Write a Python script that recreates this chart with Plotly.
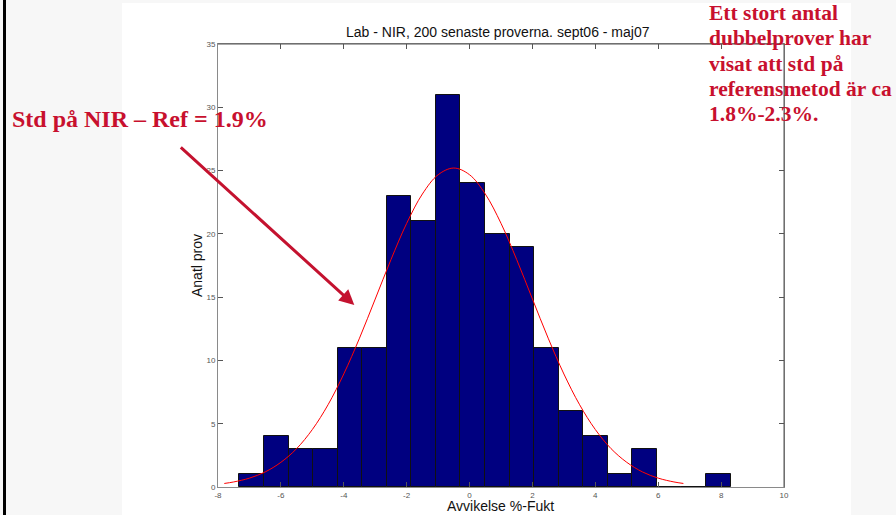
import plotly.graph_objects as go

# ---- data ----
bin_centers = [-6.930, -6.148, -5.367, -4.586, -3.805, -3.024, -2.243, -1.462, -0.681, 0.100,
               0.881, 1.662, 2.443, 3.224, 4.005, 4.786, 5.567, 6.348, 7.129, 7.910]
counts = [1, 4, 3, 3, 11, 11, 23, 21, 31, 24, 20, 19, 11, 6, 4, 1, 3, 0, 0, 1]
bin_width = 0.781

curve_x = [-7.8, -7.5, -7.0, -6.5, -6.0, -5.5, -5.0, -4.5, -4.0, -3.5, -3.0, -2.5, -2.0, -1.5, -1.0,
           -0.5, 0.0, 0.5, 1.0, 1.5, 2.0, 2.5, 3.0, 3.5, 4.0, 4.5, 5.0, 5.5, 6.0, 6.5, 6.8]
curve_y = [0.28, 0.40, 0.70, 1.19, 1.95, 3.03, 4.54, 6.50, 8.93, 11.76, 14.85, 17.96, 20.83, 23.15, 24.67,
           25.2, 24.67, 23.15, 20.83, 17.96, 14.85, 11.76, 8.93, 6.50, 4.54, 3.03, 1.95, 1.19, 0.70, 0.40, 0.28]

x_tick_vals = [-8, -6, -4, -2, 0, 2, 4, 6, 8, 10]
x_tick_text = ["-8", "-6", "-4", "-2", "0", "2", "4", "6", "8", "10"]
y_tick_vals = [0, 5, 10, 15, 20, 25, 30, 35]
y_tick_text = ["0", "5", "10", "15", "20", "25", "30", "35"]

title_text = "Lab - NIR, 200 senaste proverna. sept06 - maj07"
x_title = "Avvikelse %-Fukt"
y_title = "Anatl prov"
left_note = "Std på NIR – Ref = 1.9%"
right_note = ["Ett stort antal", "dubbelprover har", "visat att std på",
              "referensmetod är ca", "1.8%-2.3%."]

# ---- layout geometry (pixels) ----
W, H = 896, 515
L, R, T, B = 218, 784, 44, 487
pw, ph = R - L, B - T


def px(xp):
    return (xp - L) / pw


def py(yp):
    return (B - yp) / ph


RED = "#C8102E"
SANS = "Liberation Sans, Arial, sans-serif"
SERIF = "Liberation Serif, Times New Roman, serif"

fig = go.Figure()
fig.add_trace(go.Bar(x=bin_centers, y=counts, width=bin_width,
                     marker=dict(color="#000080", line=dict(color="#111111", width=1)),
                     showlegend=False, hoverinfo="skip"))
fig.add_trace(go.Scatter(x=curve_x, y=curve_y, mode="lines", line_shape="spline",
                         line=dict(color="#FF0000", width=1), showlegend=False, hoverinfo="skip"))

axis_common = dict(showgrid=False, zeroline=False, showline=True, linecolor="#8a8a8a", linewidth=1,
                   mirror="ticks", ticks="inside", ticklen=5, tickcolor="#555555",
                   tickfont=dict(family=SANS, size=8, color="#555555"))
fig.update_xaxes(range=[-8, 10], tickvals=x_tick_vals, ticktext=x_tick_text, **axis_common)
fig.update_yaxes(range=[0, 35], tickvals=y_tick_vals, ticktext=y_tick_text, **axis_common)

shapes = [
    dict(type="rect", xref="paper", yref="paper", x0=px(122), x1=px(851), y0=py(515), y1=py(3),
         fillcolor="white", line=dict(width=0), layer="below"),
    dict(type="rect", xref="paper", yref="paper", x0=px(3), x1=px(6), y0=py(515), y1=py(0),
         fillcolor="black", line=dict(width=0), layer="below"),
    dict(type="line", xref="paper", yref="paper", x0=0, x1=1, y0=1, y1=1,
         line=dict(color="#555555", width=1), layer="above"),
    dict(type="line", xref="paper", yref="paper", x0=1, x1=1, y0=0, y1=1,
         line=dict(color="#555555", width=1), layer="above"),
]

annotations = [
    dict(text=title_text, xref="paper", yref="paper", x=px(498), y=py(32), xanchor="center",
         yanchor="middle", showarrow=False, font=dict(family=SANS, size=14, color="#111111")),
    dict(text=x_title, xref="paper", yref="paper", x=px(500), y=py(506), xanchor="center",
         yanchor="middle", showarrow=False, font=dict(family=SANS, size=14, color="#111111")),
    dict(text=y_title, xref="paper", yref="paper", x=px(197), y=py(266), xanchor="center",
         yanchor="middle", textangle=-90, showarrow=False, font=dict(family=SANS, size=14, color="#111111")),
    dict(text=left_note, xref="paper", yref="paper", x=px(10), y=py(118.6), xanchor="left",
         yanchor="middle", showarrow=False, font=dict(family=SERIF, size=24, color=RED, weight="bold")),
    # arrow
    dict(text="", xref="x", yref="y", x=-3.665, y=14.38, ax=-175, ay=-159, axref="pixel", ayref="pixel",
         showarrow=True, arrowhead=2, arrowsize=1, arrowwidth=3, arrowcolor="#C4122F", standoff=0),
]
line_centers = [12.7, 38.2, 63.7, 88.7, 113.7]
for txt, yc in zip(right_note, line_centers):
    annotations.append(dict(text=txt, xref="paper", yref="paper", x=px(707), y=py(yc), xanchor="left",
                            yanchor="middle", showarrow=False,
                            font=dict(family=SERIF, size=21.5, color=RED, weight="bold")))

fig.update_layout(width=W, height=H, autosize=False,
                  margin=dict(l=L, r=W - R, t=T, b=H - B, pad=0),
                  paper_bgcolor="#f7f7f7", plot_bgcolor="white", bargap=0,
                  shapes=shapes, annotations=annotations, showlegend=False)

fig.write_html("out.html")
